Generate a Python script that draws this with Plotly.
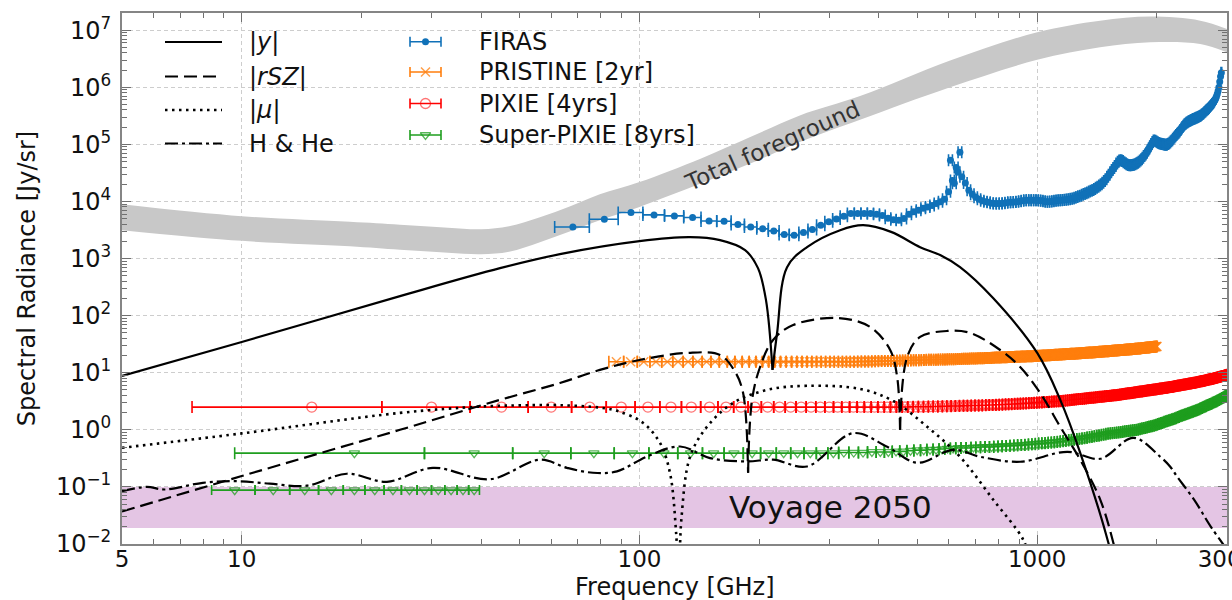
import math
import plotly.graph_objects as go

# ---------------------------------------------------------------------------
# Distortion signals, frequency in GHz, radiance in Jy/sr.
# None splits a curve at the zero crossings of the absolute value.
# ---------------------------------------------------------------------------
Y_FREQ = [5, 10, 25, 44.6, 63.1, 100, 134, 159.4, 184.3, 198.6, 208, 216, None,
          216, 221.8, 235, 263.8, 319.5, 365, 429, 507.7, 570, 639.7, 774.5, 1000, 1142.6,
          1282.6, 1509, 1571]
Y_VAL = [8.8, 34.5, 220, 679, 1194, 2015, 2366, 2097, 1403, 679, 187, 11.2, None,
         11.2, 49.6, 707, 1585, 3140, 3837, 2930, 1585, 1150, 707, 203, 22.2, 3.35,
         0.396, 0.0106, 0.003]

RSZ_FREQ = [5, 10, 25, 44.6, 63.1, 79.5, 100, 131.7, 159.4, 173.9, 182.2, 187.5, None,
            187.5, 191.9, 201, 216.7, 243.4, 316, 380.2, 426.9, 444.5, 452, None,
            452, 471, 507.7, 593.6, 678.5, 807, 906, 1017, 1142.6, 1282.6, 1440, 1553, 1600]
RSZ_VAL = [0.037, 0.155, 1.0, 3.35, 6.6, 11.2, 16.7, 22.2, 20.5, 10.4, 4.4, 0.177, None,
           0.177, 3.35, 12.6, 37.5, 68.4, 90.8, 63.2, 25, 8.4, 1.0, None,
           1.0, 18.9, 42.3, 53.9, 49.8, 25, 12.6, 4.43, 1.13, 0.299, 0.06, 0.0106, 0.004]

MU_FREQ = [5, 10, 25, 39.7, 50, 63.1, 79.5, 87.8, 102, 112.6, 119.3, 123.6, 124.6, None,
           126.3, 127.6, 134, 147.8, 171.9, 209.4, 263.8, 358.6, 434.2, 528.8, 639.7,
           774.5, 922, 960]
MU_VAL = [0.484, 0.865, 1.98, 2.55, 2.68, 2.7, 2.45, 2.15, 1.33, 0.59, 0.177, 0.016, 0.005, None,
          0.006, 0.03, 0.337, 1.13, 2.96, 5.0, 5.9, 5.2, 3.2, 1.13, 0.337,
          0.06, 0.0119, 0.005]

HHE_FREQ = [5, 5.77, 6.4, 7.98, 9.71, 11.76, 14.57, 18.37, 23.17, 30.24, 42.06, 56.2,
            65.7, 76.4, 87.8, 104.4, 126.5, 150.4, 186.4, 216.7, 263.8, 344.4, 419.5,
            499, 615, 718.9, 906, 1190, 1440, 1744, 2039, 2160, 2249, 2479, 2733, 3000]
HHE_VAL = [0.084, 0.100, 0.090, 0.118, 0.126, 0.114, 0.105, 0.170, 0.123, 0.216, 0.136, 0.300,
           0.216, 0.177, 0.187, 0.341, 0.510, 0.320, 0.279, 0.300, 0.228, 0.875, 0.505,
           0.265, 0.447, 0.337, 0.276, 0.412, 0.311, 0.725, 0.337, 0.225, 0.15, 0.06, 0.02, 0.008]

# Total foreground envelope (lower / upper edge)
FG_FREQ = [5, 10, 18.7, 25, 33, 40, 47, 56.2, 67, 79.5, 100, 142.4, 189.9, 253, 358.6, 604,
           1000, 1439, 1923, 2570, 3000]
FG_HIGH = [8930, 5510, 4390, 3915, 3470, 3266, 3683, 5295, 8245, 13360, 21900, 56200, 134000,
           321000, 700000, 2.94e6, 9.2e6, 1.47e7, 1.73e7, 1.47e7, 1.05e7]
FG_LOW = [3140, 2040, 1650, 1431, 1268, 1194, 1321, 1936, 3013, 4693, 8020, 20600, 46000,
          110000, 270000, 1.0e6, 3.02e6, 5.0e6, 6.15e6, 5.75e6, 4.1e6]

# Voyage 2050 target sensitivity band
VOYAGE_FREQ = [5, 3000]
VOYAGE_LEVEL = [0.019, 0.1]

# ---------------------------------------------------------------------------
# Instrument channels: centre frequency [GHz], sensitivity [Jy/sr]
# ---------------------------------------------------------------------------
FIRAS_HALF_WIDTH = 6.8
FIRAS_LO_FREQ = [68.0, 81.6, 95.2, 108.8, 122.4, 136.0, 149.6, 163.2, 176.8, 190.4,
                 204.0, 217.6, 231.2, 244.8, 258.4, 272.0, 285.6, 299.2, 312.8, 326.4,
                 340.0, 353.6, 367.2, 380.8, 394.4, 408.0, 421.6, 435.2, 448.8, 462.4,
                 476.0, 489.6, 503.2, 516.8, 530.4, 544.0, 557.6, 571.2, 584.8, 598.4,
                 612.0, 625.6, 639.2]
FIRAS_LO_VAL = [3580, 4890, 6400, 5810, 5580, 5240, 4560, 4510, 3950, 3580,
                3310, 3050, 2640, 2570, 2860, 3230, 3840, 4390, 4950, 5510,
                6140, 6140, 6140, 6140, 5970, 5660, 5060, 4790, 4690, 5020,
                5970, 6600, 7010, 7600, 8000, 8500, 9190, 9880, 10900, 14800,
                23300, 39300, 72400]
FIRAS_HI_FREQ = [605.2, 618.8, 632.4, 646.0, 659.6, 673.2, 686.8, 700.4, 714.0, 727.6,
                 741.2, 754.8, 768.4, 782.0, 795.6, 809.2, 822.8, 836.4, 850.0, 863.6,
                 877.2, 890.8, 904.4, 918.0, 931.6, 945.2, 958.8, 972.4, 986.0, 999.6,
                 1013.2, 1026.8, 1040.4, 1054.0, 1067.6, 1081.2, 1094.8, 1108.4, 1122.0, 1135.6,
                 1149.2, 1162.8, 1176.4, 1190.0, 1203.6, 1217.2, 1230.8, 1244.4, 1258.0, 1271.6,
                 1285.2, 1298.8, 1312.4, 1326.0, 1339.6, 1353.2, 1366.8, 1380.4, 1394.0, 1407.6,
                 1421.2, 1434.8, 1448.4, 1462.0, 1475.6, 1489.2, 1502.8, 1516.4, 1530.0, 1543.6,
                 1557.2, 1570.8, 1584.4, 1598.0, 1611.6, 1625.2, 1638.8, 1652.4, 1666.0, 1679.6,
                 1693.2, 1706.8, 1720.4, 1734.0, 1747.6, 1761.2, 1774.8, 1788.4, 1802.0, 1815.6,
                 1829.2, 1842.8, 1856.4, 1870.0, 1883.6, 1897.2, 1910.8, 1924.4, 1938.0, 1951.6,
                 1965.2, 1978.8, 1992.4, 2006.0, 2019.6, 2033.2, 2046.8, 2060.4, 2074.0, 2087.6,
                 2101.2, 2114.8, 2128.4, 2142.0, 2155.6, 2169.2, 2182.8, 2196.4, 2210.0, 2223.6,
                 2237.2, 2250.8, 2264.4, 2278.0, 2291.6, 2305.2, 2318.8, 2332.4, 2346.0, 2359.6,
                 2373.2, 2386.8, 2400.4, 2414.0, 2427.6, 2441.2, 2454.8, 2468.4, 2482.0, 2495.6,
                 2509.2, 2522.8, 2536.4, 2550.0, 2563.6, 2577.2, 2590.8, 2604.4, 2618.0, 2631.6,
                 2645.2, 2658.8, 2672.4, 2686.0, 2699.6, 2713.2, 2726.8, 2740.4, 2754.0, 2767.6,
                 2781.2, 2794.8, 2808.4, 2822.0, 2835.6, 2849.2, 2862.8, 2876.4, 2890.0, 2903.6]
FIRAS_HI_VAL = [52500, 20800, 32400, 27000, 21000, 15700, 13400, 11800, 10900, 10300,
                9880, 9680, 9300, 9190, 9190, 9190, 9300, 9490, 9680, 9680,
                9750, 9880, 10080, 10300, 10500, 10500, 10500, 10500, 10500, 10500,
                10400, 10300, 10100, 9900, 9900, 10000, 10100, 10300, 10400, 10500,
                10500, 10600, 10700, 10800, 10900, 11100, 11300, 11600, 12000, 12300,
                12600, 13100, 13500, 13900, 14400, 14900, 15400, 15800, 16500, 17300,
                18100, 19000, 20000, 21300, 22800, 24500, 27000, 29500, 32500, 35500,
                38500, 42000, 46000, 49500, 52000, 52500, 51000, 48500, 46500, 45000,
                43500, 43000, 43000, 43500, 44000, 45000, 46000, 47500, 49500, 52000,
                55000, 58500, 62500, 66500, 71000, 78000, 85000, 93000, 101000, 110000,
                117000, 116000, 112000, 109000, 106000, 104000, 103000, 101000, 100000, 99000,
                98000, 98500, 101000, 104000, 108000, 113000, 118000, 125000, 132000, 139000,
                146000, 153000, 160000, 168000, 178000, 190000, 201000, 212000, 222000, 230000,
                238000, 245000, 251000, 257000, 262000, 267000, 272000, 277000, 282000, 287000,
                292000, 297000, 302000, 308000, 314000, 321000, 330000, 340000, 352000, 365000,
                378000, 390000, 403000, 417000, 433000, 450000, 470000, 490000, 510000, 530000,
                555000, 590000, 630000, 680000, 760000, 860000, 1000000, 1250000, 1550000, 1800000]

PRISTINE_HALF_WIDTH = 3.75
PRISTINE_FREQ = [
    87.5, 95, 102.5, 110, 117.5, 125, 132.5, 140, 147.5, 155, 162.5, 170, 177.5, 185, 192.5, 200,
    207.5, 215, 222.5, 230, 237.5, 245, 252.5, 260, 267.5, 275, 282.5, 290, 297.5, 305, 312.5, 320,
    327.5, 335, 342.5, 350, 357.5, 365, 372.5, 380, 387.5, 395, 402.5, 410, 417.5, 425, 432.5, 440,
    447.5, 455, 462.5, 470, 477.5, 485, 492.5, 500, 507.5, 515, 522.5, 530, 537.5, 545, 552.5, 560,
    567.5, 575, 582.5, 590, 597.5, 605, 612.5, 620, 627.5, 635, 642.5, 650, 657.5, 665, 672.5, 680,
    687.5, 695, 702.5, 710, 717.5, 725, 732.5, 740, 747.5, 755, 762.5, 770, 777.5, 785, 792.5, 800,
    807.5, 815, 822.5, 830, 837.5, 845, 852.5, 860, 867.5, 875, 882.5, 890, 897.5, 905, 912.5, 920,
    927.5, 935, 942.5, 950, 957.5, 965, 972.5, 980, 987.5, 995, 1002.5, 1010, 1017.5, 1025, 1032.5, 1040,
    1047.5, 1055, 1062.5, 1070, 1077.5, 1085, 1092.5, 1100, 1107.5, 1115, 1122.5, 1130, 1137.5, 1145, 1152.5, 1160,
    1167.5, 1175, 1182.5, 1190, 1197.5, 1205, 1212.5, 1220, 1227.5, 1235, 1242.5, 1250, 1257.5, 1265, 1272.5, 1280,
    1287.5, 1295, 1302.5, 1310, 1317.5, 1325, 1332.5, 1340, 1347.5, 1355, 1362.5, 1370, 1377.5, 1385, 1392.5, 1400,
    1407.5, 1415, 1422.5, 1430, 1437.5, 1445, 1452.5, 1460, 1467.5, 1475, 1482.5, 1490, 1497.5, 1505, 1512.5, 1520,
    1527.5, 1535, 1542.5, 1550, 1557.5, 1565, 1572.5, 1580, 1587.5, 1595, 1602.5, 1610, 1617.5, 1625, 1632.5, 1640,
    1647.5, 1655, 1662.5, 1670, 1677.5, 1685, 1692.5, 1700, 1707.5, 1715, 1722.5, 1730, 1737.5, 1745, 1752.5, 1760,
    1767.5, 1775, 1782.5, 1790, 1797.5, 1805, 1812.5, 1820, 1827.5, 1835, 1842.5, 1850, 1857.5, 1865, 1872.5, 1880,
    1887.5, 1895, 1902.5, 1910, 1917.5, 1925, 1932.5, 1940, 1947.5, 1955, 1962.5, 1970, 1977.5, 1985, 1992.5, 2000]
PRISTINE_VAL = [
    15.6, 15.6, 15.6, 15.6, 15.6, 15.6, 15.6, 15.6, 15.6, 15.6, 15.6, 15.6, 15.6, 15.6, 15.6, 15.6,
    15.6, 15.6, 15.6, 15.6, 15.6, 15.6, 15.6, 15.6, 15.6, 15.6, 15.6, 15.6, 15.6, 15.6, 15.6, 15.6,
    15.6, 15.6, 15.6, 15.6,
    15.7, 15.7, 15.8, 15.8, 15.9, 15.9, 16.0, 16.0, 16.1, 16.1,
    16.1, 16.2, 16.2, 16.3, 16.3, 16.4, 16.4, 16.5, 16.5, 16.6,
    16.6, 16.7, 16.7, 16.8, 16.8, 16.9, 16.9, 16.9, 17.0, 17.0, 17.1, 17.1, 17.2,
    17.2, 17.3, 17.3, 17.4, 17.4, 17.4, 17.5, 17.5, 17.6, 17.6, 17.7, 17.7, 17.8,
    17.8, 17.9, 17.9, 18.0, 18.0, 18.1, 18.1, 18.2, 18.2, 18.3, 18.3, 18.4, 18.4, 18.5,
    18.5, 18.6, 18.6, 18.7, 18.7, 18.8, 18.8, 18.9, 18.9, 18.9, 19.0, 19.0, 19.1,
    19.1, 19.2, 19.2, 19.3, 19.3, 19.4, 19.4, 19.5, 19.5, 19.5, 19.6, 19.6, 19.7,
    19.7, 19.8, 19.8, 19.9, 20.0, 20.0, 20.1, 20.1, 20.2, 20.3, 20.3, 20.4, 20.4, 20.5,
    20.6, 20.6, 20.7, 20.7, 20.8, 20.9, 20.9, 21.0, 21.0, 21.1, 21.2, 21.2, 21.3,
    21.3, 21.4, 21.5, 21.5, 21.6, 21.6, 21.7, 21.8, 21.8, 21.9, 21.9, 22.0, 22.1,
    22.1, 22.2, 22.2, 22.3, 22.4, 22.4, 22.5, 22.5, 22.6, 22.7, 22.7, 22.8, 22.8, 22.9,
    23.0, 23.0, 23.1, 23.2, 23.3, 23.3, 23.4, 23.5, 23.5, 23.6, 23.7, 23.7, 23.8,
    23.8, 23.9, 24.0, 24.1, 24.1, 24.2, 24.3, 24.3, 24.4, 24.5, 24.5, 24.6, 24.7,
    24.7, 24.8, 24.9, 24.9, 25.0, 25.1, 25.1, 25.2, 25.3, 25.3, 25.4, 25.5, 25.5, 25.6,
    25.7, 25.7, 25.8, 25.9, 26.0, 26.0, 26.1, 26.2, 26.3, 26.3, 26.4, 26.5, 26.6,
    26.6, 26.7, 26.8, 26.9, 27.0, 27.1, 27.1, 27.2, 27.3, 27.4, 27.5, 27.6, 27.7,
    27.7, 27.8, 27.9, 28.0, 28.1, 28.2, 28.2, 28.3, 28.4, 28.5, 28.6, 28.6, 28.7, 28.8]

PIXIE_HALF_WIDTH = 7.5
PIXIE_FREQ = [
    15, 30, 45, 60, 75, 90, 105, 120, 135, 150, 165, 180, 195, 210, 225, 240, 255, 270, 285, 300,
    315, 330, 345, 360, 375, 390, 405, 420, 435, 450, 465, 480, 495, 510, 525, 540, 555, 570, 585, 600,
    615, 630, 645, 660, 675, 690, 705, 720, 735, 750, 765, 780, 795, 810, 825, 840, 855, 870, 885, 900,
    915, 930, 945, 960, 975, 990, 1005, 1020, 1035, 1050, 1065, 1080, 1095, 1110, 1125, 1140, 1155, 1170, 1185, 1200,
    1215, 1230, 1245, 1260, 1275, 1290, 1305, 1320, 1335, 1350, 1365, 1380, 1395, 1410, 1425, 1440, 1455, 1470, 1485, 1500,
    1515, 1530, 1545, 1560, 1575, 1590, 1605, 1620, 1635, 1650, 1665, 1680, 1695, 1710, 1725, 1740, 1755, 1770, 1785, 1800,
    1815, 1830, 1845, 1860, 1875, 1890, 1905, 1920, 1935, 1950, 1965, 1980, 1995, 2010, 2025, 2040, 2055, 2070, 2085, 2100,
    2115, 2130, 2145, 2160, 2175, 2190, 2205, 2220, 2235, 2250, 2265, 2280, 2295, 2310, 2325, 2340, 2355, 2370, 2385, 2400,
    2415, 2430, 2445, 2460, 2475, 2490, 2505, 2520, 2535, 2550, 2565, 2580, 2595, 2610, 2625, 2640, 2655, 2670, 2685, 2700,
    2715, 2730, 2745, 2760, 2775, 2790, 2805, 2820, 2835, 2850, 2865, 2880, 2895, 2910, 2925, 2940, 2955, 2970, 2985, 3000]
PIXIE_VAL = [
    2.5, 2.5, 2.5, 2.5, 2.5, 2.5, 2.5, 2.5, 2.5, 2.5, 2.5, 2.5, 2.5, 2.5, 2.5, 2.5, 2.5, 2.5, 2.5, 2.5,
    2.5, 2.5, 2.5, 2.5, 2.5, 2.5, 2.5, 2.5, 2.5, 2.5, 2.51, 2.52, 2.53, 2.53, 2.54, 2.55, 2.56, 2.57, 2.59, 2.6,
    2.61, 2.62, 2.63, 2.64, 2.65, 2.66, 2.67, 2.68, 2.69, 2.71, 2.72, 2.73, 2.75, 2.76, 2.78, 2.8, 2.81, 2.83, 2.85, 2.86,
    2.88, 2.9, 2.92, 2.94, 2.96, 2.98, 3.0, 3.02, 3.04, 3.06, 3.08, 3.1, 3.12, 3.14, 3.16, 3.18, 3.21, 3.24, 3.27, 3.3,
    3.33, 3.36, 3.39, 3.42, 3.45, 3.48, 3.51, 3.54, 3.57, 3.6, 3.63, 3.66, 3.69, 3.72, 3.75, 3.78, 3.81, 3.84, 3.87, 3.9,
    3.93, 3.96, 3.99, 4.02, 4.05, 4.08, 4.11, 4.15, 4.19, 4.23, 4.27, 4.31, 4.35, 4.39, 4.43, 4.47, 4.51, 4.55, 4.59, 4.63,
    4.67, 4.71, 4.75, 4.79, 4.83, 4.87, 4.91, 4.95, 4.99, 5.03, 5.07, 5.11, 5.15, 5.19, 5.23, 5.27, 5.31, 5.35, 5.39, 5.43,
    5.47, 5.51, 5.55, 5.6, 5.65, 5.7, 5.75, 5.8, 5.85, 5.9, 5.95, 6.0, 6.05, 6.1, 6.15, 6.2, 6.25, 6.3, 6.35, 6.4,
    6.45, 6.5, 6.55, 6.6, 6.65, 6.7, 6.76, 6.82, 6.88, 6.94, 7.0, 7.06, 7.12, 7.18, 7.24, 7.3, 7.37, 7.44, 7.51, 7.58,
    7.65, 7.72, 7.79, 7.86, 7.93, 8.0, 8.08, 8.16, 8.24, 8.32, 8.4, 8.48, 8.56, 8.64, 8.72, 8.8, 8.9, 9.0, 9.1, 9.2]

SPX_HALF_WIDTH = 9.6
SPX_FREQ = [
    19.2, 38.4, 57.6, 76.8, 96.0, 115.2, 134.4, 153.6, 172.8, 192.0,
    211.2, 230.4, 249.6, 268.8, 288.0, 307.2, 326.4, 345.6, 364.8, 384.0,
    403.2, 422.4, 441.6, 460.8, 480.0, 499.2, 518.4, 537.6, 556.8, 576.0,
    595.2, 614.4, 633.6, 652.8, 672.0, 691.2, 710.4, 729.6, 748.8, 768.0,
    787.2, 806.4, 825.6, 844.8, 864.0, 883.2, 902.4, 921.6, 940.8, 960.0,
    979.2, 998.4, 1017.6, 1036.8, 1056.0, 1075.2, 1094.4, 1113.6, 1132.8, 1152.0,
    1171.2, 1190.4, 1209.6, 1228.8, 1248.0, 1267.2, 1286.4, 1305.6, 1324.8, 1344.0,
    1363.2, 1382.4, 1401.6, 1420.8, 1440.0, 1459.2, 1478.4, 1497.6, 1516.8, 1536.0,
    1555.2, 1574.4, 1593.6, 1612.8, 1632.0, 1651.2, 1670.4, 1689.6, 1708.8, 1728.0,
    1747.2, 1766.4, 1785.6, 1804.8, 1824.0, 1843.2, 1862.4, 1881.6, 1900.8, 1920.0,
    1939.2, 1958.4, 1977.6, 1996.8, 2016.0, 2035.2, 2054.4, 2073.6, 2092.8, 2112.0,
    2131.2, 2150.4, 2169.6, 2188.8, 2208.0, 2227.2, 2246.4, 2265.6, 2284.8, 2304.0,
    2323.2, 2342.4, 2361.6, 2380.8, 2400.0, 2419.2, 2438.4, 2457.6, 2476.8, 2496.0,
    2515.2, 2534.4, 2553.6, 2572.8, 2592.0, 2611.2, 2630.4, 2649.6, 2668.8, 2688.0,
    2707.2, 2726.4, 2745.6, 2764.8, 2784.0, 2803.2, 2822.4, 2841.6, 2860.8, 2880.0,
    2899.2, 2918.4, 2937.6, 2956.8, 2976.0, 2995.2]
SPX_VAL = [
    0.39, 0.39, 0.39, 0.39, 0.39, 0.39, 0.39, 0.39, 0.39, 0.39,
    0.39, 0.39, 0.39, 0.39, 0.39, 0.39, 0.4, 0.4, 0.4, 0.41,
    0.41, 0.41, 0.42, 0.42, 0.43, 0.44, 0.44, 0.45, 0.45, 0.46,
    0.47, 0.47, 0.48, 0.48, 0.48, 0.49, 0.49, 0.5, 0.5, 0.5,
    0.51, 0.51, 0.52, 0.52, 0.53, 0.53, 0.54, 0.54, 0.55, 0.56,
    0.56, 0.57, 0.58, 0.58, 0.59, 0.6, 0.6, 0.61, 0.62, 0.63,
    0.64, 0.65, 0.66, 0.67, 0.68, 0.69, 0.7, 0.71, 0.72, 0.74,
    0.75, 0.76, 0.78, 0.79, 0.8, 0.82, 0.83, 0.85, 0.86, 0.87,
    0.88, 0.89, 0.9, 0.91, 0.92, 0.93, 0.94, 0.95, 0.96, 0.97,
    0.98, 0.99, 1.0, 1.02, 1.04, 1.06, 1.08, 1.1, 1.12, 1.14,
    1.16, 1.18, 1.2, 1.23, 1.26, 1.29, 1.32, 1.35, 1.38, 1.41,
    1.44, 1.47, 1.5, 1.53, 1.56, 1.6, 1.64, 1.68, 1.72, 1.76,
    1.8, 1.84, 1.88, 1.92, 1.96, 2.0, 2.04, 2.08, 2.12, 2.16,
    2.2, 2.25, 2.3, 2.36, 2.42, 2.48, 2.54, 2.6, 2.66, 2.72,
    2.78, 2.84, 2.9, 2.97, 3.04, 3.11, 3.18, 3.26, 3.34, 3.42,
    3.5, 3.6, 3.7, 3.8, 3.9, 4.0]

SPX_LOW_HALF_WIDTH = 1.2
SPX_LOW_FREQ = [9.6, 12.0, 14.4, 16.8, 19.2, 21.6, 24.0, 26.4, 28.8, 31.2, 33.6, 36.0, 38.4]
SPX_LOW_VAL = [0.088, 0.088, 0.088, 0.088, 0.088, 0.088, 0.088, 0.088, 0.088, 0.088,
               0.088, 0.088, 0.088]

for a, b in [(FIRAS_LO_FREQ, FIRAS_LO_VAL), (FIRAS_HI_FREQ, FIRAS_HI_VAL),
             (PRISTINE_FREQ, PRISTINE_VAL), (PIXIE_FREQ, PIXIE_VAL),
             (SPX_FREQ, SPX_VAL), (SPX_LOW_FREQ, SPX_LOW_VAL)]:
    assert len(a) == len(b), (len(a), len(b))

# ---------------------------------------------------------------------------
# Styling
# ---------------------------------------------------------------------------
FONT = "DejaVu Sans"
BLUE = "#1071b8"
ORANGE = "#ff7f0e"
RED = "#ff0000"
GREEN = "#1f9e1f"
FG_GREY = "#c8c8c8"
VOYAGE_FILL = "#e4c5e4"

W, H = 1232, 600
ML, MR, MT, MB = 122, 5, 13, 56
PW, PH = W - ML - MR, H - MT - MB


def fx(p):
    """pixel column -> paper fraction"""
    return (p - ML) / PW


def fy(p):
    """pixel row -> paper fraction"""
    return (H - MB - p) / PH


fig = go.Figure()

# Voyage 2050 band
fig.add_trace(go.Scatter(
    x=[VOYAGE_FREQ[0], VOYAGE_FREQ[1], VOYAGE_FREQ[1], VOYAGE_FREQ[0]],
    y=[VOYAGE_LEVEL[1], VOYAGE_LEVEL[1], VOYAGE_LEVEL[0], VOYAGE_LEVEL[0]],
    mode="lines", fill="toself", fillcolor=VOYAGE_FILL, line=dict(width=0),
    hoverinfo="skip"))

# foreground envelope
fig.add_trace(go.Scatter(x=FG_FREQ, y=FG_LOW, mode="lines",
                         line=dict(width=0, shape="spline", color=FG_GREY), hoverinfo="skip"))
fig.add_trace(go.Scatter(x=FG_FREQ, y=FG_HIGH, mode="lines", fill="tonexty", fillcolor=FG_GREY,
                         line=dict(width=0, shape="spline", color=FG_GREY), hoverinfo="skip"))


def instrument(freq, val, half, color, marker, cap=5, axes=("x", "y")):
    return go.Scatter(
        x=freq, y=val, mode="markers", marker=marker, xaxis=axes[0], yaxis=axes[1],
        error_x=dict(type="constant", value=half, color=color, thickness=1.6, width=cap),
        hoverinfo="skip")


FIRAS_MARKER = dict(symbol="circle", size=7, color=BLUE)
PRISTINE_MARKER = dict(symbol="x-thin-open", size=9, color="rgba(255,127,14,0.75)",
                       line=dict(width=1.5, color="rgba(255,127,14,0.75)"))
PIXIE_MARKER = dict(symbol="circle-open", size=10, color="rgba(255,0,0,0.55)",
                    line=dict(width=1.3, color="rgba(255,0,0,0.55)"))
SPX_MARKER = dict(symbol="triangle-down-open", size=9, color="rgba(31,158,31,0.75)",
                  line=dict(width=1.3, color="rgba(31,158,31,0.75)"))

fig.add_trace(instrument(SPX_LOW_FREQ, SPX_LOW_VAL, SPX_LOW_HALF_WIDTH, GREEN, SPX_MARKER))
fig.add_trace(instrument(SPX_FREQ, SPX_VAL, SPX_HALF_WIDTH, GREEN, SPX_MARKER, cap=6))
fig.add_trace(instrument(PIXIE_FREQ, PIXIE_VAL, PIXIE_HALF_WIDTH, RED, PIXIE_MARKER, cap=6))
fig.add_trace(instrument(PRISTINE_FREQ, PRISTINE_VAL, PRISTINE_HALF_WIDTH, ORANGE, PRISTINE_MARKER, cap=6))
fig.add_trace(instrument(FIRAS_LO_FREQ, FIRAS_LO_VAL, FIRAS_HALF_WIDTH, BLUE, FIRAS_MARKER, cap=6))
fig.add_trace(instrument(FIRAS_HI_FREQ, FIRAS_HI_VAL, FIRAS_HALF_WIDTH, BLUE, FIRAS_MARKER, cap=6))

# distortion signals
DASH_RSZ = "13px,6px"
DASH_MU = "2.5px,4.5px"
DASH_HHE = "13px,4px,3px,4px"
LINES = [
    (HHE_FREQ, HHE_VAL, DASH_HHE, 2.2),
    (MU_FREQ, MU_VAL, DASH_MU, 2.6),
    (RSZ_FREQ, RSZ_VAL, DASH_RSZ, 2.2),
    (Y_FREQ, Y_VAL, "solid", 2.2),
]
for xs, ys, dash, w in LINES:
    fig.add_trace(go.Scatter(x=xs, y=ys, mode="lines",
                             line=dict(color="black", width=w, dash=dash, shape="spline"),
                             connectgaps=False, hoverinfo="skip"))

# ---------------------------------------------------------------------------
# Legend (two columns, drawn by hand)
# ---------------------------------------------------------------------------
LEG_FONT = dict(family=FONT, size=24, color="#111")
annotations = []
shapes = []

line_rows = [("|<i>y</i>|", "solid", 2.2, 42),
             ("|<i>rSZ</i>|", DASH_RSZ, 2.2, 76.5),
             ("|<i>μ</i>|", DASH_MU, 2.6, 110),
             ("H &amp; He", DASH_HHE, 2.2, 143.5)]
for label, dash, w, row in line_rows:
    shapes.append(dict(type="line", xref="paper", yref="paper",
                       x0=fx(165), x1=fx(222), y0=fy(row), y1=fy(row),
                       line=dict(color="black", width=w, dash=dash)))
    annotations.append(dict(text=label, xref="paper", yref="paper", x=fx(247), y=fy(row),
                            xanchor="left", yanchor="middle", showarrow=False, font=LEG_FONT))

inst_rows = [("FIRAS", BLUE, FIRAS_MARKER, 41.7),
             ("PRISTINE [2yr]", ORANGE, PRISTINE_MARKER, 72),
             ("PIXIE [4yrs]", RED, PIXIE_MARKER, 103.5),
             ("Super-PIXIE [8yrs]", GREEN, SPX_MARKER, 135)]
for label, color, marker, row in inst_rows:
    fig.add_trace(instrument([fx(425.5)], [fy(row)], fx(441) - fx(425.5), color, marker,
                             cap=5, axes=("x2", "y2")))
    annotations.append(dict(text=label, xref="paper", yref="paper", x=fx(477), y=fy(row),
                            xanchor="left", yanchor="middle", showarrow=False, font=LEG_FONT))

annotations.append(dict(text="Voyage 2050", xref="paper", yref="paper", x=fx(830), y=fy(507),
                        xanchor="center", yanchor="middle", showarrow=False,
                        font=dict(family=FONT, size=31, color="#111")))
annotations.append(dict(text="Total foreground", xref="paper", yref="paper", x=fx(772), y=fy(146),
                        xanchor="center", yanchor="middle", showarrow=False, textangle=-24,
                        font=dict(family=FONT, size=23, color="#333")))

# x-axis title, placed just under the tick labels
annotations.append(dict(text="Frequency [GHz]", xref="paper", yref="paper", x=0.5, y=fy(586.5),
                        xanchor="center", yanchor="middle", showarrow=False,
                        font=dict(family=FONT, size=24, color="#111")))

# ---------------------------------------------------------------------------
# Axes
# ---------------------------------------------------------------------------
X_TICKS = [5, 10, 100, 1000, 3000]
X_TICK_TEXT = ["5", "10", "100", "1000", "3000"]
X_MINOR = [6, 7, 8, 9] + [m * 10 for m in range(2, 10)] + [m * 100 for m in range(2, 10)] + [2000]
Y_EXPONENTS = list(range(-2, 8))
Y_TICKS = [10.0 ** e for e in Y_EXPONENTS]
Y_TICK_TEXT = ["10<sup>%s</sup>" % (str(e).replace("-", "\u2212")) for e in Y_EXPONENTS]
Y_MINOR = [m * 10.0 ** e for e in range(-2, 7) for m in range(2, 10)]

AXIS_COMMON = dict(
    type="log", showline=True, linecolor="#858585", linewidth=2, mirror="allticks",
    ticks="inside", ticklen=9, tickwidth=1.3, tickcolor="#707070",
    showgrid=True, gridcolor="#cdcdcd", gridwidth=1, griddash="4px,3px",
    zeroline=False, tickfont=dict(family=FONT, size=24, color="#111"),
    ticklabeloverflow="allow", automargin=False,
)

fig.update_layout(
    width=W, height=H,
    margin=dict(l=ML, r=MR, t=MT, b=MB, pad=0),
    paper_bgcolor="white", plot_bgcolor="white",
    showlegend=False,
    font=dict(family=FONT, color="#111"),
    xaxis=dict(
        AXIS_COMMON, range=[math.log10(5), math.log10(3000)],
        tickmode="array", tickvals=X_TICKS, ticktext=X_TICK_TEXT,
        tickfont=dict(family=FONT, size=23, color="#111"),
        minor=dict(tickvals=X_MINOR, ticks="inside", ticklen=5, tickwidth=1.1,
                   tickcolor="#707070", showgrid=False),
        ticklabelstandoff=-7,
    ),
    yaxis=dict(
        AXIS_COMMON, range=[-2, math.log10(2e7)],
        tickmode="array", tickvals=Y_TICKS, ticktext=Y_TICK_TEXT,
        minor=dict(tickvals=Y_MINOR, ticks="inside", ticklen=5, tickwidth=1.1,
                   tickcolor="#707070", showgrid=False),
        title=dict(text="Spectral Radiance [Jy/sr]", font=dict(family=FONT, size=24, color="#111"),
                   standoff=14),
        ticklabelstandoff=4,
    ),
    xaxis2=dict(overlaying="x", range=[0, 1], visible=False, fixedrange=True),
    yaxis2=dict(overlaying="y", range=[0, 1], visible=False, fixedrange=True),
    shapes=shapes,
    annotations=annotations,
)

fig.write_html("out.html")
